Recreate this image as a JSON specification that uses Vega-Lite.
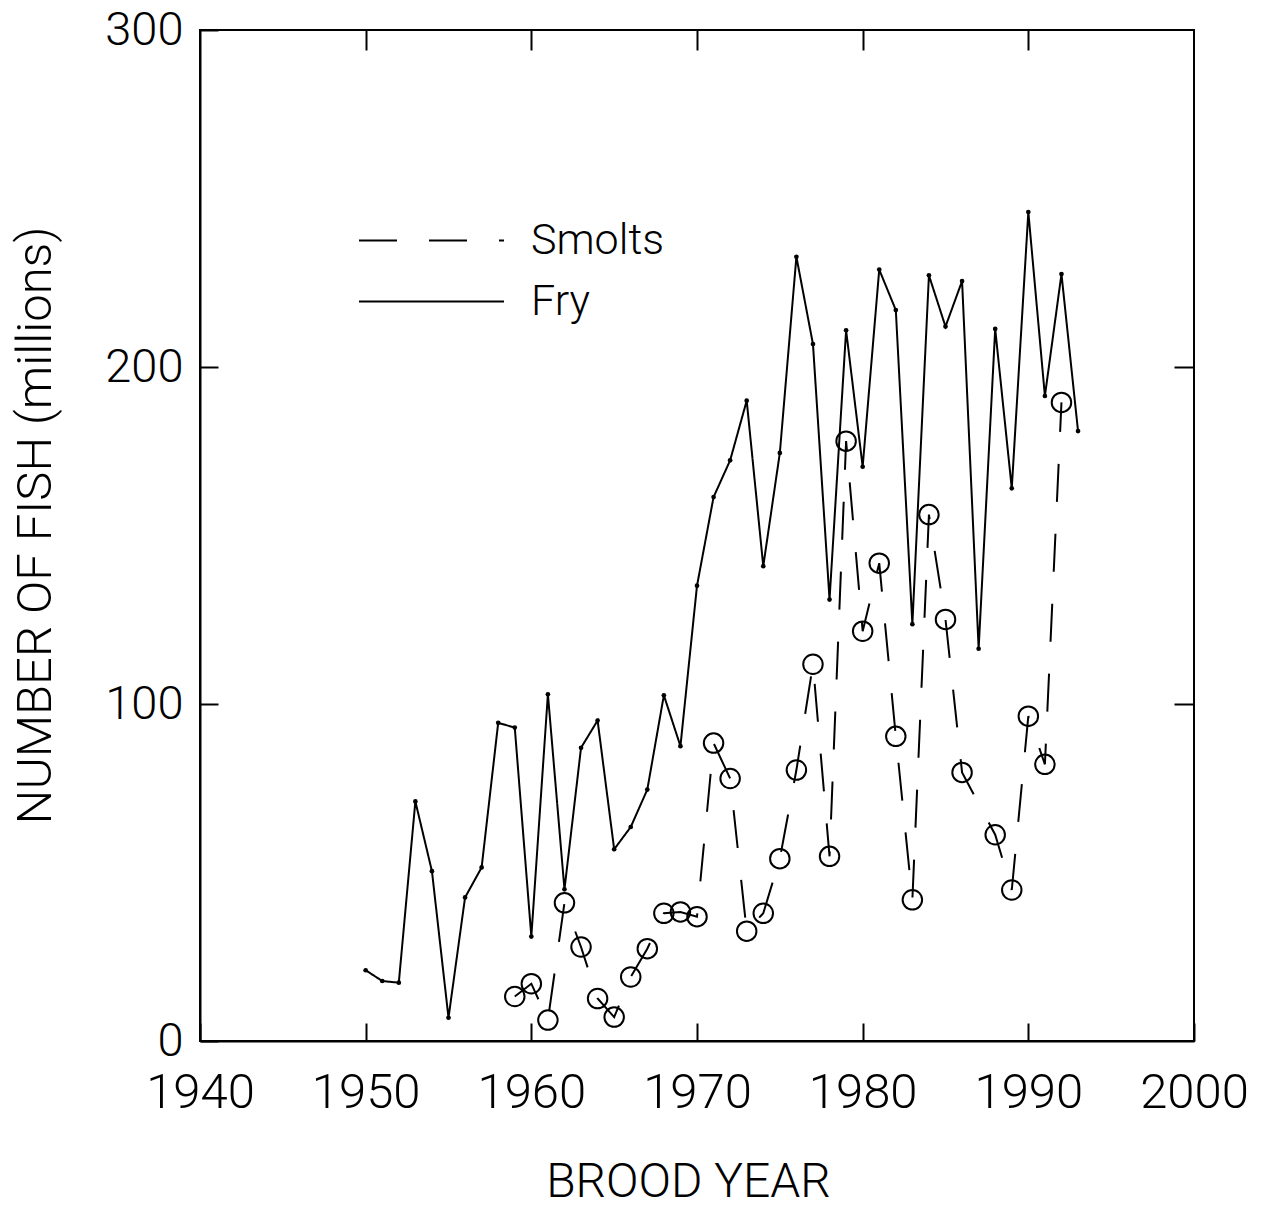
{
  "$schema": "https://vega.github.io/schema/vega-lite/v6.json",
  "width": 994,
  "height": 1011,
  "autosize": "none",
  "padding": {"left": 200, "top": 30, "right": 74, "bottom": 167},
  "background": "white",
  "config": {
    "font": "Roboto",
    "view": {"stroke": "black", "strokeWidth": 2},
    "axis": {"grid": false, "domainColor": "black", "domainWidth": 2, "tickColor": "black", "tickWidth": 2, "labelColor": "black", "titleColor": "black", "labelFont": "Roboto", "titleFont": "Roboto", "labelFontWeight": 300, "titleFontWeight": 300}
  },
  "data": {
    "values": [
      {"year": 1950, "value": 21.0, "series": "Fry"},
      {"year": 1951, "value": 17.8, "series": "Fry"},
      {"year": 1952, "value": 17.3, "series": "Fry"},
      {"year": 1953, "value": 71.1, "series": "Fry"},
      {"year": 1954, "value": 50.4, "series": "Fry"},
      {"year": 1955, "value": 6.9, "series": "Fry"},
      {"year": 1956, "value": 42.6, "series": "Fry"},
      {"year": 1957, "value": 51.5, "series": "Fry"},
      {"year": 1958, "value": 94.4, "series": "Fry"},
      {"year": 1959, "value": 93.0, "series": "Fry"},
      {"year": 1960, "value": 31.0, "series": "Fry"},
      {"year": 1961, "value": 102.9, "series": "Fry"},
      {"year": 1962, "value": 45.0, "series": "Fry"},
      {"year": 1963, "value": 87.0, "series": "Fry"},
      {"year": 1964, "value": 95.1, "series": "Fry"},
      {"year": 1965, "value": 56.9, "series": "Fry"},
      {"year": 1966, "value": 63.5, "series": "Fry"},
      {"year": 1967, "value": 74.6, "series": "Fry"},
      {"year": 1968, "value": 102.6, "series": "Fry"},
      {"year": 1969, "value": 87.5, "series": "Fry"},
      {"year": 1970, "value": 135.1, "series": "Fry"},
      {"year": 1971, "value": 161.4, "series": "Fry"},
      {"year": 1972, "value": 172.3, "series": "Fry"},
      {"year": 1973, "value": 190.0, "series": "Fry"},
      {"year": 1974, "value": 140.9, "series": "Fry"},
      {"year": 1975, "value": 174.5, "series": "Fry"},
      {"year": 1976, "value": 232.7, "series": "Fry"},
      {"year": 1977, "value": 206.8, "series": "Fry"},
      {"year": 1978, "value": 131.0, "series": "Fry"},
      {"year": 1979, "value": 210.9, "series": "Fry"},
      {"year": 1980, "value": 170.4, "series": "Fry"},
      {"year": 1981, "value": 228.9, "series": "Fry"},
      {"year": 1982, "value": 216.9, "series": "Fry"},
      {"year": 1983, "value": 123.7, "series": "Fry"},
      {"year": 1984, "value": 227.2, "series": "Fry"},
      {"year": 1985, "value": 212.0, "series": "Fry"},
      {"year": 1986, "value": 225.5, "series": "Fry"},
      {"year": 1987, "value": 116.4, "series": "Fry"},
      {"year": 1988, "value": 211.3, "series": "Fry"},
      {"year": 1989, "value": 164.0, "series": "Fry"},
      {"year": 1990, "value": 246.0, "series": "Fry"},
      {"year": 1991, "value": 191.4, "series": "Fry"},
      {"year": 1992, "value": 227.6, "series": "Fry"},
      {"year": 1993, "value": 181.0, "series": "Fry"},
      {"year": 1959, "value": 13.2, "series": "Smolts"},
      {"year": 1960, "value": 17.0, "series": "Smolts"},
      {"year": 1961, "value": 6.2, "series": "Smolts"},
      {"year": 1962, "value": 41.0, "series": "Smolts"},
      {"year": 1963, "value": 27.9, "series": "Smolts"},
      {"year": 1964, "value": 12.6, "series": "Smolts"},
      {"year": 1965, "value": 7.1, "series": "Smolts"},
      {"year": 1966, "value": 19.0, "series": "Smolts"},
      {"year": 1967, "value": 27.4, "series": "Smolts"},
      {"year": 1968, "value": 37.9, "series": "Smolts"},
      {"year": 1969, "value": 38.3, "series": "Smolts"},
      {"year": 1970, "value": 36.9, "series": "Smolts"},
      {"year": 1971, "value": 88.4, "series": "Smolts"},
      {"year": 1972, "value": 77.9, "series": "Smolts"},
      {"year": 1973, "value": 32.6, "series": "Smolts"},
      {"year": 1974, "value": 37.9, "series": "Smolts"},
      {"year": 1975, "value": 54.1, "series": "Smolts"},
      {"year": 1976, "value": 80.4, "series": "Smolts"},
      {"year": 1977, "value": 111.8, "series": "Smolts"},
      {"year": 1978, "value": 54.8, "series": "Smolts"},
      {"year": 1979, "value": 178.0, "series": "Smolts"},
      {"year": 1980, "value": 121.6, "series": "Smolts"},
      {"year": 1981, "value": 141.8, "series": "Smolts"},
      {"year": 1982, "value": 90.4, "series": "Smolts"},
      {"year": 1983, "value": 41.9, "series": "Smolts"},
      {"year": 1984, "value": 156.2, "series": "Smolts"},
      {"year": 1985, "value": 125.1, "series": "Smolts"},
      {"year": 1986, "value": 79.7, "series": "Smolts"},
      {"year": 1988, "value": 61.2, "series": "Smolts"},
      {"year": 1989, "value": 44.8, "series": "Smolts"},
      {"year": 1990, "value": 96.4, "series": "Smolts"},
      {"year": 1991, "value": 82.1, "series": "Smolts"},
      {"year": 1992, "value": 189.5, "series": "Smolts"}
    ]
  },
  "layer": [
    {
      "mark": {"type": "line", "color": "black", "strokeWidth": 2},
      "encoding": {
        "x": {
          "field": "year", "type": "quantitative",
          "scale": {"domain": [1940, 2000], "nice": false, "zero": false},
          "axis": {"orient": "bottom", "values": [1940, 1950, 1960, 1970, 1980, 1990, 2000], "format": "d", "tickSize": -18, "labelPadding": 45, "labelFontSize": 49, "labelBaseline": "top", "title": "BROOD YEAR", "titleFontSize": 48, "titleX": 488, "titleY": 141, "titleBaseline": "middle", "titleAlign": "center", "labelFlush": false}
        },
        "y": {
          "field": "value", "type": "quantitative",
          "scale": {"domain": [0, 300], "nice": false},
          "axis": {"orient": "left", "values": [0, 100, 200, 300], "tickSize": -18, "labelPadding": 35, "labelFontSize": 47, "title": "NUMBER OF FISH (millions)", "titleFontSize": 49, "titleX": -165, "titleY": 495, "titleAngle": -90, "titleBaseline": "middle", "titleAlign": "center", "labelFlush": false}
        },
        "detail": {"field": "series"},
        "strokeDash": {
          "field": "series", "type": "nominal",
          "scale": {"domain": ["Smolts", "Fry"], "range": [[38, 32], [1, 0]]},
          "legend": {
            "title": null, "orient": "none", "legendX": 206, "legendY": 185, "padding": 0,
            "symbolType": "M-3,0H3", "symbolSize": 2336, "symbolStrokeWidth": 2, "symbolStrokeColor": "black", "symbolFillColor": "transparent",
            "labelFontSize": 43, "labelFont": "Roboto", "labelFontWeight": 300, "labelColor": "black", "labelOffset": 74, "rowPadding": 13
          }
        }
      }
    },
    {
      "transform": [{"filter": "datum.series === 'Fry'"}],
      "mark": {"type": "point", "filled": true, "color": "black", "size": 22, "opacity": 1},
      "encoding": {
        "x": {"field": "year", "type": "quantitative", "axis": null},
        "y": {"field": "value", "type": "quantitative", "axis": null}
      }
    },
    {
      "transform": [{"filter": "datum.series === 'Smolts'"}],
      "mark": {"type": "point", "filled": false, "color": "black", "size": 380, "strokeWidth": 2, "opacity": 1},
      "encoding": {
        "x": {"field": "year", "type": "quantitative", "axis": {"orient": "top", "values": [1950, 1960, 1970, 1980, 1990], "labels": false, "domain": false, "tickSize": -20, "title": null}},
        "y": {"field": "value", "type": "quantitative", "axis": {"orient": "right", "values": [100, 200], "labels": false, "domain": false, "tickSize": -20, "title": null}}
      }
    }
  ]
}
